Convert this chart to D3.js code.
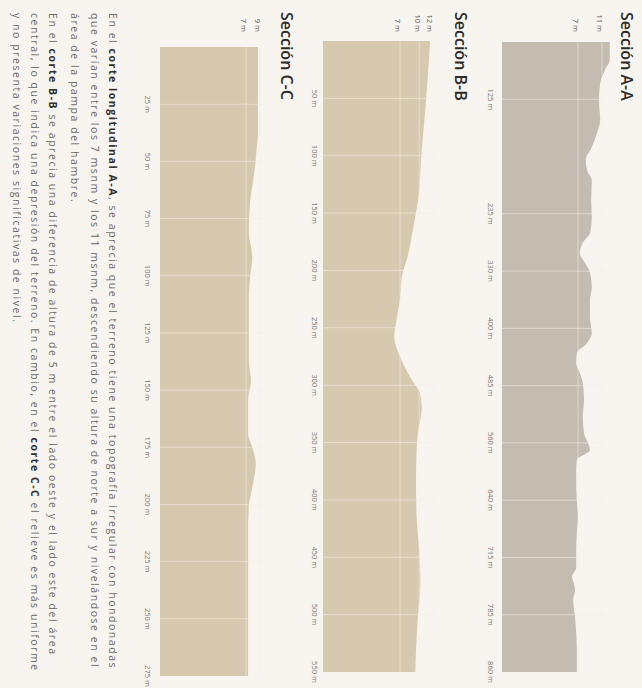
<!DOCTYPE html>
<html><head><meta charset="utf-8">
<script src="https://cdn.jsdelivr.net/npm/d3@7"></script>
<style>html,body{margin:0;padding:0;background:#f8f5f0;} svg{display:block}</style>
</head><body><svg id="c" width="642" height="688"></svg>
<script>
// ---------- DATA ----------
// Sección A-A (distance m, elevation m)
const aaDist = [0,39,61,90,126,145,157,171,183,193,203,222,241,267,283,300,317,332,350,365,386,407,422,437,452,466,481,504,526,547,570,584,598,616,640,662,683,705,727,739,745,755,767,788,809,832,860];
const aaElev = [12.3,12.3,11.5,10.7,10.5,10.7,10.2,9.3,8.3,8.5,9.3,9.2,9.3,9.0,7.8,7.3,8.2,9.0,9.3,9.0,9.0,9.3,8.5,6.8,6.7,7.3,7.8,8.0,7.8,8.0,9.0,6.8,6.7,6.7,6.8,7.0,6.8,6.7,6.7,6.0,6.25,6.5,6.2,6.5,6.7,6.8,6.8];
const aaTickValues = [125,235,330,400,485,560,640,715,785,860];
const aaTickLabels = ["125 m","235 m","330 m","400 m","485 m","560 m","640 m","715 m","785 m","860 m"];
const aaElevTicks = [11,7];
const aaElevLabels = ["11 m","7 m"];

// Sección B-B
const bbDist = [0,50,95,140,165,190,205,225,245,258,275,293,307,320,342,356,385,415,444,472,502,531,550];
const bbElev = [11.7,11.1,10.4,9.8,9.0,8.1,7.3,7.0,6.4,6.1,7.0,8.6,10.1,10.4,9.8,9.6,9.5,9.6,10.0,10.2,9.8,9.5,9.4];
const bbTickValues = [50,100,150,200,250,300,350,400,450,500,550];
const bbTickLabels = ["50 m","100 m","150 m","200 m","250 m","300 m","350 m","400 m","450 m","500 m","550 m"];
const bbElevTicks = [12,10,7];
const bbElevLabels = ["12 m","10 m","7 m"];

// Sección C-C
const ccDist = [0,23,38,45,52,61,67,81,92,100,111,125,137,146,154,169,176,182,191,201,212,234,275];
const ccElev = [8.7,8.7,8.7,8.5,8.3,7.9,7.6,7.4,7.9,7.6,7.4,7.4,7.4,7.7,7.3,7.3,8.0,8.4,8.0,7.4,7.3,7.3,7.3];
const ccTickValues = [25,50,75,100,125,150,175,200,225,250,275];
const ccTickLabels = ["25 m","50 m","75 m","100 m","125 m","150 m","175 m","200 m","225 m","250 m","275 m"];
const ccElevTicks = [9,7];
const ccElevLabels = ["9 m","7 m"];

const titles = ["Sección A-A","Sección B-B","Sección C-C"];

// paragraph lines: arrays of [text, bold]
const textLines = [
  [["En el ",0],["corte longitudinal A-A",1],[", se aprecia que el terreno tiene una topografía irregular con hondonadas",0]],
  [["que varían entre los 7 msnm y los 11 msnm, descendiendo su altura de norte a sur y nivelándose en el",0]],
  [["área de la pampa del hambre.",0]],
  [["En el ",0],["corte B-B",1],[" se aprecia una diferencia de altura de 5 m entre el lado oeste y el lado este del área",0]],
  [["central, lo que indica una depresión del terreno. En cambio, en el ",0],["corte C-C",1],[" el relieve es más uniforme",0]],
  [["y no presenta variaciones significativas de nivel.",0]]
];

// ---------- DRAW ----------
const svg = d3.select("#c");
svg.append("rect").attr("width",642).attr("height",688).attr("fill","#f8f5f0");
// whole composition is rotated 90° clockwise
const root = svg.append("g").attr("transform","translate(642,0) rotate(90)");
const FONT = "'Open Sans', 'DejaVu Sans', sans-serif";

const sections = [
  {title:titles[0], dist:aaDist, elev:aaElev, ticks:aaTickValues, labels:aaTickLabels, eTicks:aaElevTicks, eLabels:aaElevLabels,
   u0:42, u1:672, base:140, v7:64, ppm:6, labelV:151, titleV:21, fill:"#c4bcb1",
   slots:[0,1,3,4,5,6,7,8,9,10,11], nSlots:11},
  {title:titles[1], dist:bbDist, elev:bbElev, ticks:bbTickValues, labels:bbTickLabels, eTicks:bbElevTicks, eLabels:bbElevLabels,
   u0:41, u1:672, base:319, v7:242, ppm:6.4, labelV:327, titleV:187, fill:"#d7c9b0"},
  {title:titles[2], dist:ccDist, elev:ccElev, ticks:ccTickValues, labels:ccTickLabels, eTicks:ccElevTicks, eLabels:ccElevLabels,
   u0:47, u1:676, base:482, v7:396, ppm:7, labelV:494, titleV:361, fill:"#d6c8ae"}
];

sections.forEach(s => {
  const g = root.append("g");
  let x;
  if (s.slots) {
    const stops = [0].concat(s.ticks);
    x = d3.scaleLinear().domain(stops).range(s.slots.map(i => s.u0 + i*(s.u1-s.u0)/s.nSlots));
  } else {
    x = d3.scaleLinear().domain([0, d3.max(s.ticks)]).range([s.u0, s.u1]);
  }
  const eMin = d3.min(s.eTicks), eMax = d3.max(s.eTicks);
  const y = d3.scaleLinear().domain([eMin, eMax]).range([s.v7, s.v7 - (eMax-eMin)*s.ppm]);

  g.append("text").attr("x",12).attr("y",s.titleV).text(s.title)
    .attr("font-family",FONT).attr("font-size",16).attr("font-weight",600).attr("fill","#2b2b2b");

  const pts = s.dist.map((d,i)=>[d, s.elev[i]]);
  const area = d3.area().x(d=>x(d[0])).y0(s.base).y1(d=>y(d[1])).curve(d3.curveMonotoneX);
  g.append("path").datum(pts).attr("d",area).attr("fill",s.fill);

  const topV = y(eMax) - 4;
  // vertical gridlines (distance)
  g.selectAll("line.dx").data(s.ticks.slice(0,-1)).join("line")
    .attr("x1",d=>x(d)).attr("x2",d=>x(d)).attr("y1",s.base).attr("y2",topV)
    .attr("stroke","#f4efe7").attr("stroke-opacity",0.55).attr("stroke-width",1);
  // horizontal gridlines (elevation)
  g.selectAll("line.dy").data(s.eTicks).join("line")
    .attr("x1",s.u0).attr("x2",s.u1).attr("y1",d=>y(d)).attr("y2",d=>y(d))
    .attr("stroke","#f4efe7").attr("stroke-opacity",0.55).attr("stroke-width",1);

  // elevation labels
  g.selectAll("text.el").data(s.eTicks).join("text")
    .attr("x",32).attr("y",d=>y(d)+2).attr("dy","0.35em").attr("text-anchor","end")
    .text((d,i)=>s.eLabels[i])
    .attr("font-family",FONT).attr("font-size",7.5).attr("fill","#555");

  // distance labels
  g.selectAll("text.dl").data(s.ticks).join("text")
    .attr("x",d=>x(d)).attr("y",s.labelV).attr("dy","0.35em").attr("text-anchor","middle")
    .text((d,i)=>s.labels[i])
    .attr("font-family",FONT).attr("font-size",7.5).attr("fill","#777");
});

// paragraph
const lineV = [533,551,571,593,611,629];
textLines.forEach((segs,i)=>{
  const t = root.append("text").attr("x",13).attr("y",lineV[i])
    .attr("font-family",FONT).attr("font-size",10.5).attr("letter-spacing","1.55px").attr("fill","#6a6a6a");
  segs.forEach(([txt,b])=>{
    t.append("tspan").text(txt).attr("font-weight",b?700:400).attr("fill",b?"#2f2f2f":"#6a6a6a");
  });
});
</script></body></html>
